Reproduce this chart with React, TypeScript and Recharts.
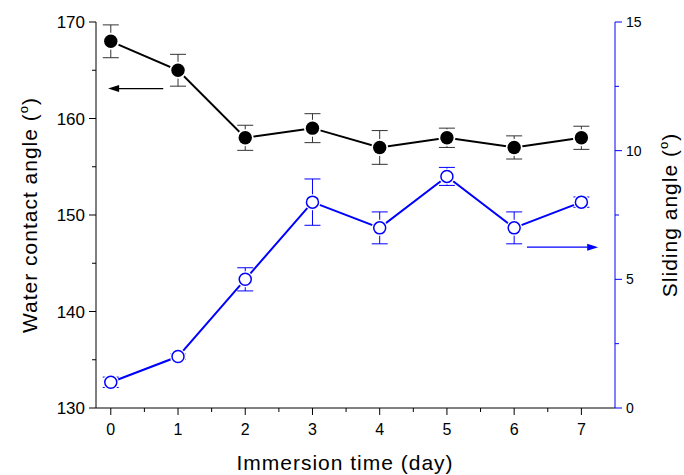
import React from 'react';
import { ComposedChart, Line, XAxis, YAxis, ErrorBar, ReferenceLine, Label } from 'recharts';

const days = [0, 1, 2, 3, 4, 5, 6, 7];
const contactAngle = [168, 165, 158, 159, 157, 158, 157, 158];
const contactAngleErr = [1.7, 1.65, 1.3, 1.5, 1.75, 1.0, 1.2, 1.2];
const slidingAngle = [1, 2, 5, 8, 7, 9, 7, 8];
const slidingAngleErr = [0.2, 0.1, 0.45, 0.9, 0.62, 0.35, 0.62, 0.2];

const xTicks = [0, 0.5, 1, 1.5, 2, 2.5, 3, 3.5, 4, 4.5, 5, 5.5, 6, 6.5, 7];
const leftTicks = [130, 135, 140, 145, 150, 155, 160, 165, 170];
const rightTicks = [0, 2.5, 5, 7.5, 10, 12.5, 15];

// arrows pointing to each series' axis
const leftArrow = { from: 0.78, to: -0.04, y: 163.1 };
const rightArrow = { from: 6.19, to: 7.25, y: 6.25 };

const data = days.map((d, i) => ({
  day: d,
  wca: contactAngle[i],
  wcaErr: contactAngleErr[i],
  sa: slidingAngle[i],
  saErr: slidingAngleErr[i],
}));

const FONT = '"Liberation Sans", Arial, sans-serif';
const BLUE = '#0000ff';

const XTick = (props: any) => {
  const { x, y, payload } = props;
  const major = Number.isInteger(payload.value);
  return (
    <g>
      <line x1={x} x2={x} y1={y} y2={y + (major ? 7 : 4)} stroke="#000" />
      {major && (
        <text x={x} y={y + 27} textAnchor="middle" fontSize={16} fontFamily={FONT} fill="#000">
          {payload.value}
        </text>
      )}
    </g>
  );
};

const TopTick = (props: any) => {
  const { x, y, payload } = props;
  const major = Number.isInteger(payload.value);
  return <line x1={x} x2={x} y1={y} y2={y + (major ? 7 : 4)} stroke="#000" />;
};

const LeftTick = (props: any) => {
  const { x, y, payload } = props;
  const major = payload.value % 10 === 0;
  return (
    <g>
      <line x1={x} x2={x - (major ? 7 : 4)} y1={y} y2={y} stroke="#000" />
      {major && (
        <text x={x - 11} y={y + 6} textAnchor="end" fontSize={17} fontFamily={FONT} fill="#000">
          {payload.value}
        </text>
      )}
    </g>
  );
};

const RightTick = (props: any) => {
  const { x, y, payload } = props;
  const major = payload.value % 5 === 0;
  return (
    <g>
      <line x1={x} x2={x + (major ? 7 : 4)} y1={y} y2={y} stroke={BLUE} />
      {major && (
        <text x={x + 11} y={y + 5} textAnchor="start" fontSize={14} fontFamily={FONT} fill="#000">
          {payload.value}
        </text>
      )}
    </g>
  );
};

const FilledDot = (props: any) => {
  const { cx, cy, index } = props;
  return (
    <g key={`f-${index}`}>
      <circle cx={cx} cy={cy} r={8.5} fill="#fff" />
      <circle cx={cx} cy={cy} r={6.7} fill="#000" />
    </g>
  );
};

const OpenDot = (props: any) => {
  const { cx, cy, index } = props;
  return (
    <g key={`o-${index}`}>
      <circle cx={cx} cy={cy} r={8} fill="#fff" />
      <circle cx={cx} cy={cy} r={6} fill="#fff" stroke={BLUE} strokeWidth={1.5} />
    </g>
  );
};

const Arrow = (color: string) => (props: any) => {
  const { x1, y1, x2, y2 } = props;
  const dir = x2 > x1 ? 1 : -1;
  return (
    <g>
      <line x1={x1} y1={y1} x2={x2 - dir * 8} y2={y2} stroke={color} strokeWidth={1.2} />
      <polygon points={`${x2},${y2} ${x2 - dir * 11},${y2 - 3.5} ${x2 - dir * 11},${y2 + 3.5}`} fill={color} />
    </g>
  );
};

const AxisTitle = (text: string, cx: number, cy: number, rotate: number) => () => (
  <text
    x={cx}
    y={cy}
    transform={rotate ? `rotate(${rotate}, ${cx}, ${cy})` : undefined}
    textAnchor="middle"
    fontSize={21}
    letterSpacing={1}
    fontFamily={FONT}
    fill="#000"
  >
    {text} (
    <tspan fontSize={13} dy={-9}>o</tspan>
    <tspan dy={9}>)</tspan>
  </text>
);

const XTitle = () => (
  <text x={345} y={470} textAnchor="middle" fontSize={21} letterSpacing={1} fontFamily={FONT} fill="#000">
    Immersion time (day)
  </text>
);

export default function App() {
  return (
    <div style={{ position: 'absolute', left: 0, top: 0, background: '#fff' }}>
      <ComposedChart width={684} height={475} data={data} margin={{ top: 22, right: 0, bottom: 0, left: 0 }}>
        <XAxis
          dataKey="day"
          type="number"
          domain={[-0.22, 7.5]}
          ticks={xTicks}
          allowDataOverflow
          interval={0}
          height={67}
          tickSize={0}
          tickMargin={0}
          tickLine={false}
          tick={<XTick />}
          axisLine={{ stroke: '#000' }}
        >
          <Label content={<XTitle />} />
        </XAxis>
        <XAxis
          xAxisId="top"
          dataKey="day"
          type="number"
          orientation="top"
          domain={[-0.22, 7.5]}
          ticks={xTicks}
          allowDataOverflow
          interval={0}
          height={0}
          tickSize={0}
          tickMargin={0}
          tickLine={false}
          tick={<TopTick />}
          axisLine={{ stroke: '#000' }}
        />
        <YAxis
          yAxisId="left"
          type="number"
          domain={[130, 170]}
          ticks={leftTicks}
          interval={0}
          width={96}
          tickSize={0}
          tickMargin={0}
          tickLine={false}
          tick={<LeftTick />}
          axisLine={{ stroke: '#000' }}
        >
          <Label content={AxisTitle('Water contact angle', 37, 215, -90)} />
        </YAxis>
        <YAxis
          yAxisId="right"
          orientation="right"
          type="number"
          domain={[0, 15]}
          ticks={rightTicks}
          interval={0}
          width={69}
          tickSize={0}
          tickMargin={0}
          tickLine={false}
          tick={<RightTick />}
          axisLine={{ stroke: BLUE }}
        >
          <Label content={AxisTitle('Sliding angle', 677, 215, -90)} />
        </YAxis>
        <ReferenceLine
          yAxisId="left"
          segment={[{ x: leftArrow.from, y: leftArrow.y }, { x: leftArrow.to, y: leftArrow.y }]}
          shape={Arrow('#000')}
        />
        <ReferenceLine
          yAxisId="right"
          segment={[{ x: rightArrow.from, y: rightArrow.y }, { x: rightArrow.to, y: rightArrow.y }]}
          shape={Arrow(BLUE)}
        />
        <Line
          yAxisId="left"
          dataKey="wca"
          stroke="#000"
          strokeWidth={2}
          dot={FilledDot}
          activeDot={false}
          isAnimationActive={false}
        >
          <ErrorBar dataKey="wcaErr" direction="y" width={8} stroke="#333" strokeWidth={1} />
        </Line>
        <Line
          yAxisId="right"
          dataKey="sa"
          stroke={BLUE}
          strokeWidth={2}
          dot={OpenDot}
          activeDot={false}
          isAnimationActive={false}
        >
          <ErrorBar dataKey="saErr" direction="y" width={8} stroke={BLUE} strokeWidth={1} />
        </Line>
      </ComposedChart>
    </div>
  );
}
